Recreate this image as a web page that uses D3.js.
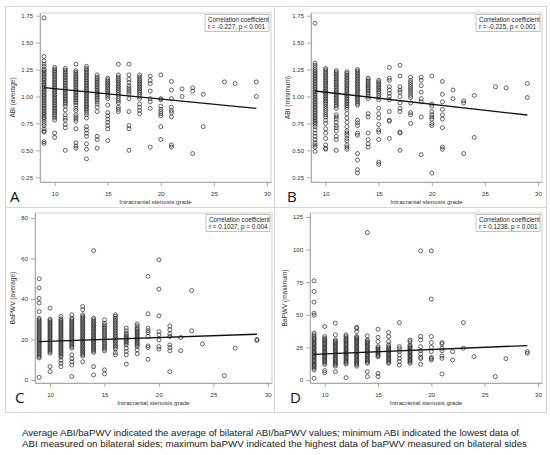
<!DOCTYPE html>
<html>
<head>
<meta charset="utf-8">
<script src="https://cdn.jsdelivr.net/npm/d3@7"></script>
<style>
  body { margin: 0; background: #fff; }
  svg text { font-family: "Liberation Sans", Arial, sans-serif; }
</style>
</head>
<body>
<svg id="chart" width="550" height="455"></svg>
<script>
// stenosis grades present on the x axis (no 25, 28)
const grades = [9, 10, 11, 12, 13, 14, 15, 16, 17, 18, 19, 20, 21, 22, 23, 24, 26, 27, 29];

// ABI (average), one list per grade
const abiAverage = [
  [1.73, 1.37, 1.33, 1.30, 1.28, 1.25, 1.24, 1.225, 1.21, 1.195, 1.18, 1.165, 1.15, 1.135, 1.12, 1.105, 1.09, 1.075, 1.06, 1.045, 1.03, 1.015, 1.00, 0.985, 0.97, 0.955, 0.94, 0.925, 0.91, 0.895, 0.88, 0.865, 0.85, 0.835, 0.82, 0.805, 0.79, 0.77, 0.75, 0.73, 0.70, 0.68, 0.67, 0.58, 0.565],
  [1.27, 1.255, 1.24, 1.225, 1.21, 1.195, 1.18, 1.165, 1.15, 1.135, 1.12, 1.105, 1.09, 1.075, 1.06, 1.045, 1.03, 1.015, 1.00, 0.985, 0.97, 0.955, 0.94, 0.925, 0.91, 0.895, 0.88, 0.865, 0.85, 0.835, 0.82, 0.80, 0.78, 0.66, 0.62],
  [1.26, 1.245, 1.23, 1.215, 1.20, 1.185, 1.17, 1.155, 1.14, 1.125, 1.11, 1.095, 1.08, 1.065, 1.05, 1.035, 1.02, 1.005, 0.99, 0.975, 0.96, 0.945, 0.93, 0.91, 0.875, 0.83, 0.80, 0.78, 0.74, 0.71, 0.50],
  [1.30, 1.24, 1.225, 1.21, 1.195, 1.18, 1.165, 1.15, 1.135, 1.12, 1.105, 1.09, 1.075, 1.06, 1.045, 1.03, 1.015, 1.00, 0.985, 0.97, 0.955, 0.94, 0.92, 0.89, 0.87, 0.83, 0.81, 0.79, 0.77, 0.70, 0.57, 0.54, 0.52],
  [1.28, 1.26, 1.245, 1.23, 1.215, 1.20, 1.185, 1.17, 1.155, 1.14, 1.125, 1.11, 1.095, 1.08, 1.065, 1.05, 1.035, 1.02, 1.005, 0.99, 0.975, 0.96, 0.945, 0.93, 0.915, 0.90, 0.885, 0.87, 0.85, 0.83, 0.80, 0.72, 0.69, 0.66, 0.63, 0.56, 0.51, 0.42],
  [1.20, 1.18, 1.165, 1.15, 1.135, 1.12, 1.105, 1.09, 1.075, 1.06, 1.045, 1.03, 1.015, 1.00, 0.985, 0.97, 0.95, 0.93, 0.90, 0.86, 0.63, 0.60, 0.52],
  [1.17, 1.155, 1.14, 1.125, 1.11, 1.095, 1.08, 1.065, 1.05, 1.035, 1.02, 1.00, 0.98, 0.92, 0.85, 0.82, 0.79, 0.76, 0.73, 0.70, 0.59],
  [1.30, 1.20, 1.18, 1.16, 1.145, 1.13, 1.115, 1.10, 1.085, 1.07, 1.055, 1.04, 1.02, 1.00, 0.98, 0.96, 0.94, 0.90, 0.88, 0.86],
  [1.30, 1.20, 1.16, 1.13, 1.10, 1.08, 1.06, 1.04, 1.02, 0.98, 0.86, 0.73, 0.70, 0.50],
  [1.20, 1.18, 1.16, 1.145, 1.13, 1.115, 1.10, 1.085, 1.07, 1.055, 1.04, 1.02, 1.00, 0.98, 0.93, 0.90, 0.87, 0.84],
  [1.19, 1.15, 1.12, 1.05, 0.98, 0.95, 0.89, 0.53],
  [1.20, 0.98, 0.97, 0.91, 0.88, 0.86, 0.84, 0.82, 0.72, 0.60],
  [1.14, 1.06, 0.98, 0.90, 0.87, 0.85, 0.81, 0.55, 0.53],
  [1.07, 1.00],
  [1.08, 1.05, 0.47],
  [1.02, 0.72],
  [1.135],
  [1.12],
  [1.135, 1.00]
];

// ABI (minimum)
const abiMinimum = [
  [1.68, 1.31, 1.29, 1.27, 1.25, 1.235, 1.22, 1.205, 1.19, 1.175, 1.16, 1.145, 1.13, 1.115, 1.10, 1.085, 1.07, 1.055, 1.04, 1.025, 1.01, 0.995, 0.98, 0.965, 0.95, 0.935, 0.92, 0.905, 0.89, 0.875, 0.86, 0.845, 0.83, 0.815, 0.80, 0.785, 0.77, 0.755, 0.74, 0.72, 0.69, 0.66, 0.63, 0.60, 0.57, 0.55, 0.53, 0.49],
  [1.26, 1.245, 1.23, 1.215, 1.20, 1.185, 1.17, 1.155, 1.14, 1.125, 1.11, 1.095, 1.08, 1.065, 1.05, 1.035, 1.02, 1.005, 0.99, 0.975, 0.96, 0.945, 0.93, 0.91, 0.89, 0.87, 0.85, 0.83, 0.81, 0.78, 0.75, 0.70, 0.66, 0.61, 0.55, 0.52, 0.51],
  [1.24, 1.225, 1.21, 1.195, 1.18, 1.165, 1.15, 1.135, 1.12, 1.105, 1.09, 1.075, 1.06, 1.045, 1.03, 1.015, 1.00, 0.985, 0.97, 0.955, 0.94, 0.925, 0.91, 0.89, 0.83, 0.81, 0.79, 0.76, 0.73, 0.71, 0.68, 0.63, 0.60, 0.50],
  [1.23, 1.215, 1.20, 1.185, 1.17, 1.155, 1.14, 1.125, 1.11, 1.095, 1.08, 1.065, 1.05, 1.035, 1.02, 1.005, 0.99, 0.975, 0.96, 0.945, 0.93, 0.915, 0.90, 0.88, 0.84, 0.80, 0.76, 0.72, 0.68, 0.66, 0.64, 0.61, 0.59, 0.55, 0.53, 0.51],
  [1.25, 1.235, 1.22, 1.205, 1.19, 1.175, 1.16, 1.145, 1.13, 1.115, 1.10, 1.085, 1.07, 1.055, 1.04, 1.025, 1.01, 0.995, 0.98, 0.965, 0.95, 0.935, 0.92, 0.78, 0.755, 0.73, 0.66, 0.64, 0.47, 0.41, 0.32, 0.29],
  [1.17, 1.155, 1.14, 1.125, 1.11, 1.095, 1.08, 1.065, 1.05, 1.035, 1.02, 1.00, 0.98, 0.84, 0.81, 0.66, 0.60, 0.56, 0.53],
  [1.15, 1.135, 1.12, 1.105, 1.09, 1.075, 1.06, 1.045, 1.03, 1.01, 0.99, 0.97, 0.89, 0.84, 0.80, 0.74, 0.69, 0.67, 0.60, 0.39, 0.37],
  [1.27, 1.17, 1.15, 1.09, 1.06, 1.03, 1.00, 0.97, 0.86, 0.78, 0.77, 0.61],
  [1.29, 1.19, 1.09, 1.06, 1.04, 1.00, 0.94, 0.89, 0.86, 0.67, 0.66, 0.50],
  [1.18, 1.15, 1.13, 1.11, 1.09, 1.07, 1.05, 1.03, 1.01, 0.99, 0.94, 0.85, 0.83, 0.75],
  [1.18, 1.15, 1.10, 1.04, 0.98, 0.95, 0.81, 0.46],
  [1.19, 0.93, 0.91, 0.86, 0.83, 0.81, 0.79, 0.75, 0.73, 0.29],
  [1.14, 1.02, 0.95, 0.88, 0.83, 0.79, 0.71, 0.53, 0.51],
  [1.06, 0.98],
  [0.96, 0.94, 0.47],
  [1.01, 0.62],
  [1.09],
  [1.08],
  [1.12, 0.99]
];

// baPWV (average)
const pwvAverage = [
  [50, 45.5, 40.3, 38, 33.8, 30.5, 29.8, 29.1, 28.4, 27.7, 27.0, 26.3, 25.6, 24.9, 24.2, 23.5, 22.8, 22.1, 21.4, 20.7, 20.0, 19.3, 18.6, 17.9, 17.2, 16.5, 15.8, 15.1, 14.4, 13.7, 13.0, 12.3, 11.6, 10.9, 1.3],
  [35.5, 30.0, 29.3, 28.6, 27.9, 27.2, 26.5, 25.8, 25.1, 24.4, 23.7, 23.0, 22.3, 21.6, 20.9, 20.2, 19.5, 18.8, 18.1, 17.4, 16.7, 16.0, 15.3, 14.6, 13.9, 13.2, 6.6, 4.1],
  [31.4, 30.2, 29.5, 28.8, 28.1, 27.4, 26.7, 26.0, 25.3, 24.6, 23.9, 23.2, 22.5, 21.8, 21.1, 20.4, 19.7, 19.0, 18.3, 17.6, 16.9, 16.2, 15.5, 14.8, 14.1, 13.4, 12.7, 12.0, 11.3, 9.6, 8.3, 6.6],
  [32.2, 30.5, 29.8, 29.1, 28.4, 27.7, 27.0, 26.3, 25.6, 24.9, 24.2, 23.5, 22.8, 22.1, 21.4, 20.7, 20.0, 19.3, 18.6, 17.9, 17.2, 16.5, 15.8, 12.4, 10.5, 9.0, 7.4, 1.7],
  [36.3, 34.7, 32.2, 31.4, 30.7, 30.0, 29.3, 28.6, 27.9, 27.2, 26.5, 25.8, 25.1, 24.4, 23.7, 23.0, 22.3, 21.6, 20.9, 20.2, 19.5, 18.8, 18.1, 17.4, 16.7, 16.0, 15.3, 14.6, 13.9, 13.2, 12.5, 11.8, 9.0],
  [63.9, 30.5, 29.7, 29.0, 28.3, 27.6, 26.9, 26.2, 25.5, 24.8, 24.1, 23.4, 22.7, 22.0, 21.3, 20.6, 19.9, 19.2, 18.5, 17.8, 17.1, 16.4, 15.7, 15.0, 14.3, 13.6, 6.6, 2.5],
  [29.7, 28.0, 27.2, 26.4, 25.6, 24.8, 24.0, 23.2, 22.4, 21.6, 20.8, 20.0, 19.2, 18.4, 17.6, 16.8, 16.0, 15.2, 14.4, 5.0, 3.0],
  [32.2, 31.4, 30.5, 29.7, 28.9, 28.1, 27.3, 26.5, 25.7, 24.9, 24.1, 23.3, 22.5, 21.7, 20.9, 20.1, 19.3, 18.5, 17.7, 16.9, 16.1, 15.3, 13.5, 12.4],
  [25.6, 24.3, 23.0, 22.3, 21.6, 20.9, 20.2, 19.5, 18.8, 18.1, 17.3, 15.7, 14.1, 12.4, 7.8],
  [27.7, 26.7, 25.6, 24.9, 24.2, 23.5, 22.8, 22.1, 21.4, 20.7, 20.0, 19.3, 18.6, 17.9, 17.2, 16.5, 14.9, 12.9],
  [51.2, 32.7, 25.6, 24.4, 23.4, 21.5, 16.8, 16.0, 10.2],
  [59.4, 44.9, 31.7, 23.9, 22.3, 19.8, 16.5, 15.3],
  [26.7, 24.8, 22.8, 21.5, 17.3, 16.0, 14.4, 4.1],
  [21.0, 14.5],
  [44.2, 24.3],
  [17.8],
  [2.1],
  [15.7],
  [20.1, 19.5]
];

// baPWV (maximum)
const pwvMaximum = [
  [76, 67.9, 59.7, 51.2, 49.7, 35.9, 34.6, 33.3, 32, 31, 30, 29, 28, 27, 26, 25, 24, 23, 22, 21, 20, 19, 18, 17, 16, 15, 14, 13, 12, 11, 10, 9, 7.7, 1.3],
  [41, 33.3, 32, 31, 30, 29, 28, 27, 26, 25, 24, 23, 22, 21, 20, 19, 18, 17, 16, 15, 14, 13, 12, 7.2, 5.6],
  [43.5, 34.6, 30.7, 29.7, 28.7, 27.7, 26.7, 25.7, 24.7, 23.7, 22.7, 21.7, 20.7, 19.7, 18.7, 17.7, 16.7, 15.7, 14.7, 13.7, 12.7, 11.7, 10.7, 6.4],
  [34.6, 33.3, 32.2, 31.2, 30.2, 29.2, 28.2, 27.2, 26.2, 25.2, 24.2, 23.2, 22.2, 21.2, 20.2, 19.2, 18.2, 17.2, 16.2, 15.2, 14.2, 13.2, 12.2, 1.8],
  [40.5, 39.5, 37.1, 33.3, 32.6, 31.8, 30.8, 29.8, 28.8, 27.8, 26.8, 25.8, 24.8, 23.8, 22.8, 21.8, 20.8, 19.8, 18.8, 17.8, 16.8, 15.8, 14.8, 13.8, 12.8, 11.8, 10.6],
  [113, 33.8, 30.7, 29.7, 28.7, 27.7, 26.7, 25.7, 24.7, 23.7, 22.7, 21.7, 20.7, 19.7, 18.7, 17.7, 16.7, 15.7, 14.7, 13.7, 12.8, 6.4, 2.6],
  [38.9, 32.8, 29.5, 25.6, 24.6, 23.6, 22.6, 21.6, 20.6, 19.6, 18.6, 17.9, 5.1, 2.6],
  [36.4, 33.3, 29.5, 27, 25.6, 24.6, 23.6, 22.6, 21.6, 20.6, 19.6, 18.6, 17.6, 16.6, 15.6, 14.6, 13.6, 12.8],
  [44, 25.6, 24, 21.8, 19.2, 16.6, 14.1, 11.5],
  [30.7, 29.5, 26.9, 25.9, 24.9, 23.9, 22.9, 21.9, 20.9, 19.9, 18.9, 17.9, 16.9, 15.9, 14.9, 13.9, 12.8],
  [99, 33.3, 30.7, 25.6, 22.5, 20, 17.4, 16.4, 12],
  [99, 62, 33.3, 28.7, 25.1, 21.8, 17.4, 16.4, 15.4],
  [28.7, 27.7, 24.3, 22.5, 18.4, 16.6, 4.6],
  [21.8, 15.4],
  [44, 24.3],
  [17.9],
  [2.6],
  [16.4],
  [21.8, 20.5]
];

// fitted regression line end points [grade, value]
const fitA = [[9, 1.082], [29, 0.890]];
const fitB = [[9, 1.051], [29, 0.828]];
const fitC = [[9, 18.98], [29, 22.6]];
const fitD = [[9, 19.7], [29, 26.4]];

const xTicks = [10, 15, 20, 25, 30];
const abiTicks = [0.25, 0.50, 0.75, 1.00, 1.25, 1.50, 1.75];
const pwvAvgTicks = [0, 20, 40, 60, 80];
const pwvMaxTicks = [0, 25, 50, 75, 100, 125];

const captionLines = [
  "Average ABI/baPWV indicated the average of bilateral ABI/baPWV values; minimum ABI indicated the lowest data of",
  "ABI measured on bilateral sides; maximum baPWV indicated the highest data of baPWV measured on bilateral sides"
];

const svg = d3.select("#chart");

// outer frame with dividers
svg.append("rect").attr("x", 5.5).attr("y", 6.5).attr("width", 541).attr("height", 406)
  .attr("fill", "none").attr("stroke", "#d6d6d6");
svg.append("line").attr("x1", 274.5).attr("x2", 274.5).attr("y1", 6.5).attr("y2", 412.5).attr("stroke", "#d6d6d6");
svg.append("line").attr("x1", 5.5).attr("x2", 546.5).attr("y1", 207.5).attr("y2", 207.5).attr("stroke", "#d6d6d6");

const panels = [
  { letter: "A", values: abiAverage, fit: fitA, yTicks: abiTicks, yFmt: d3.format(".2f"), yDomain: [0.206, 1.775],
    yTitle: "ABI (average)", r: "r = -0.227, p < 0.001", left: 40, right: 271, top: 13, bottom: 182, letterX: 10, titleX: 13 },
  { letter: "B", values: abiMinimum, fit: fitB, yTicks: abiTicks, yFmt: d3.format(".2f"), yDomain: [0.206, 1.775],
    yTitle: "ABI (minimum)", r: "r = -0.225, p < 0.001", left: 311, right: 542, top: 13, bottom: 182, letterX: 287, titleX: 288 },
  { letter: "C", values: pwvAverage, fit: fitC, yTicks: pwvAvgTicks, yFmt: d3.format("d"), yDomain: [-1.5, 82.5],
    yTitle: "BaPWV (average)", r: "r = 0.1027, p = 0.004", left: 35, right: 272, top: 213, bottom: 383, letterX: 15, titleX: 13 },
  { letter: "D", values: pwvMaximum, fit: fitD, yTicks: pwvMaxTicks, yFmt: d3.format("d"), yDomain: [-2.3, 128],
    yTitle: "BaPWV (maximum)", r: "r = 0.1238, p = 0.001", left: 310, right: 542, top: 213, bottom: 383, letterX: 290, titleX: 285 }
];

panels.forEach(p => {
  const x = d3.scaleLinear().domain([8.62, 30.38]).range([p.left, p.right]);
  const y = d3.scaleLinear().domain(p.yDomain).range([p.bottom, p.top]);
  const g = svg.append("g");

  // plot box
  g.append("rect").attr("x", p.left).attr("y", p.top)
    .attr("width", p.right - p.left).attr("height", p.bottom - p.top)
    .attr("fill", "none").attr("stroke", "#c4c4c4").attr("stroke-width", 0.8);

  // axes
  const xAxis = g.append("g").attr("transform", `translate(0,${p.bottom})`)
    .call(d3.axisBottom(x).tickValues(xTicks).tickSize(4).tickSizeOuter(0));
  const yAxis = g.append("g").attr("transform", `translate(${p.left},0)`)
    .call(d3.axisLeft(y).tickValues(p.yTicks).tickFormat(p.yFmt).tickSize(4).tickSizeOuter(0));
  [xAxis, yAxis].forEach(a => {
    a.select(".domain").attr("stroke", "#999").attr("stroke-width", 0.8);
    a.selectAll(".tick line").attr("stroke", "#999").attr("stroke-width", 0.8);
    a.selectAll(".tick text").attr("fill", "#333").style("font-size", "6px");
  });
  xAxis.selectAll(".tick text").attr("dy", "1.1em");

  // points
  const pts = [];
  p.values.forEach((col, i) => col.forEach(v => pts.push([grades[i], v])));
  g.append("g").selectAll("circle").data(pts).join("circle")
    .attr("cx", d => x(d[0])).attr("cy", d => y(d[1])).attr("r", 2)
    .attr("fill", "none").attr("stroke", "#262626").attr("stroke-width", 0.7);

  // regression line
  g.append("path").datum(p.fit)
    .attr("d", d3.line().x(d => x(d[0])).y(d => y(d[1])))
    .attr("stroke", "#111").attr("stroke-width", 1.3).attr("fill", "none");

  // correlation box
  const bw = 64, bh = 17;
  const bx = p.right - bw - 2, by = p.top + 1.5;
  g.append("rect").attr("x", bx).attr("y", by).attr("width", bw).attr("height", bh)
    .attr("fill", "#fff").attr("stroke", "#aaa").attr("stroke-width", 0.7);
  g.append("text").attr("x", bx + 3).attr("y", by + 7).text("Correlation coefficient")
    .style("font-size", "6.3px").attr("fill", "#222");
  g.append("text").attr("x", bx + 3).attr("y", by + 14.5).text(p.r)
    .style("font-size", "6.3px").attr("fill", "#222");

  // axis titles
  g.append("text").attr("x", (p.left + p.right) / 2).attr("y", p.bottom + 21.5)
    .attr("text-anchor", "middle").style("font-size", "6.2px").attr("fill", "#333")
    .text("Intracranial stenosis grade");
  g.append("text")
    .attr("transform", `translate(${p.titleX + 2},${(p.top + p.bottom) / 2}) rotate(-90)`)
    .attr("text-anchor", "middle").style("font-size", "6.5px").attr("fill", "#333")
    .text(p.yTitle);

  // panel letter
  g.append("text").attr("x", p.letterX).attr("y", p.bottom + 20)
    .style("font-family", "'Open Sans', Lato, sans-serif").style("font-size", "15px").attr("fill", "#111")
    .text(p.letter);
});

// caption under the figure
svg.selectAll(".caption").data(captionLines).join("text")
  .attr("class", "caption")
  .attr("x", 22).attr("y", (d, i) => 435.5 + i * 11)
  .attr("textLength", (d, i) => i === 0 ? 497 : 505)
  .attr("lengthAdjust", "spacingAndGlyphs")
  .style("font-family", "'Liberation Sans', Arial, sans-serif").style("font-size", "9.2px").attr("fill", "#1a1a1a")
  .text(d => d);
</script>
</body>
</html>
